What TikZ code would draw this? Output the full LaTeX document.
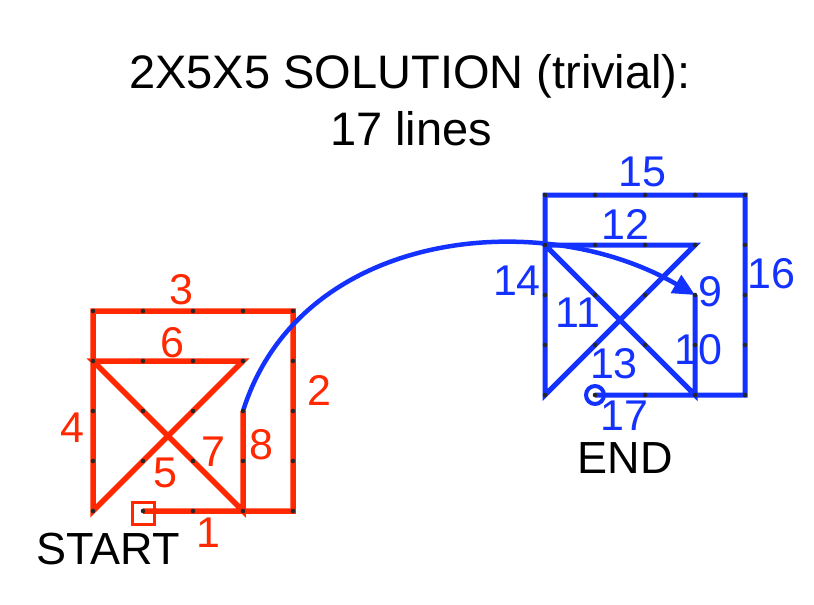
\documentclass[tikz,border=0pt]{standalone}
\usepackage{fontspec}
\setmainfont{Liberation Sans}
\usetikzlibrary{arrows.meta,calc}
\definecolor{pred}{RGB}{255,40,0}
\definecolor{pblue}{RGB}{20,50,255}
\tikzset{
  redline/.style={draw=pred, line width=5.5pt},
  blueline/.style={draw=pblue, line width=5pt},
  rlab/.style={text=pred, inner sep=0pt, font=\fontsize{43}{46}\selectfont},
  blab/.style={text=pblue, inner sep=0pt, font=\fontsize{43}{46}\selectfont},
  bigtext/.style={text=black, inner sep=0pt, font=\fontsize{47}{52}\selectfont},
  gdot/.style={fill=black!85},
}
\begin{document}
\begin{tikzpicture}[x=1pt,y=-1pt]
\useasboundingbox (0,0) rectangle (814,605);
% grid coordinates
\foreach \i in {0,...,4}{
  \foreach \j in {0,...,4}{
    \coordinate (r-\i-\j) at ({93+50*\i},{311+50*\j});
    \coordinate (b-\i-\j) at ({545+50*\i},{195+50*\j});
  }
}
% titles
\node[bigtext, anchor=base] (title) at (410,88) {2X5X5 SOLUTION (trivial):};
\node[bigtext, anchor=base] (sub) at (411,145) {17 lines};
% red path
\draw[redline] (r-1-4) -- (r-4-4) -- (r-4-0) -- (r-0-0) -- (r-0-4) -- (r-3-1) -- (r-0-1) -- (r-3-4) -- (r-3-2);
\draw[draw=pred, line width=3pt] ($(r-1-4)+(-11,-9)$) rectangle ($(r-1-4)+(11,13)$);
% blue path
\draw[blueline] (b-3-2) -- (b-3-4) -- (b-0-1) -- (b-3-1) -- (b-0-4) -- (b-0-0) -- (b-4-0) -- (b-4-4) -- (b-1-4);
\draw[draw=pblue, line width=4pt] (b-1-4) circle (9);
% connecting curve (line 9)
\draw[draw=pblue, line width=4.5pt, -{Triangle[length=22pt,width=20pt]}] (r-3-2) .. controls (300,230) and (540,205) .. (b-3-2);
% dots
\foreach \i in {0,...,4}{
  \foreach \j in {0,...,4}{
    \fill[gdot] (r-\i-\j) circle (2.3);
    \fill[gdot] (b-\i-\j) circle (2.3);
  }
}
% red labels
\node[rlab] (l1) at (208,533) {1};
\node[rlab] (l2) at (319,390) {2};
\node[rlab] (l3) at (181,290) {3};
\node[rlab] (l4) at (72,428) {4};
\node[rlab] (l5) at (165,473) {5};
\node[rlab] (l6) at (172,343) {6};
\node[rlab] (l7) at (213,452) {7};
\node[rlab] (l8) at (261,445) {8};
% blue labels
\node[blab] (l9) at (710,292) {9};
\node[blab] (l10) at (698,350) {10};
\node[blab] (l11) at (578,313) {11};
\node[blab] (l12) at (625,224) {12};
\node[blab] (l13) at (614,364) {13};
\node[blab] (l14) at (517,281) {14};
\node[blab] (l15) at (642,172) {15};
\node[blab] (l16) at (771,274) {16};
\node[blab] (l17) at (624,416) {17};
% start / end
\node[bigtext, font=\fontsize{45}{48}\selectfont] (start) at (108,549) {START};
\node[bigtext, font=\fontsize{45}{48}\selectfont] (end) at (625,458) {END};
\end{tikzpicture}
\end{document}
